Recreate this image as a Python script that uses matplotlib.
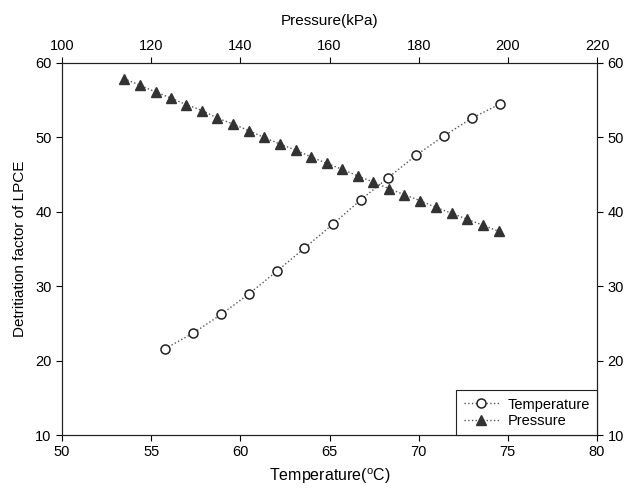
import matplotlib
matplotlib.use("Agg")
import matplotlib.pyplot as plt

plt.rcParams["font.family"] = ["Liberation Sans", "DejaVu Sans"]
plt.rcParams["mathtext.default"] = "regular"

# Temperature series (bottom axis, degC)
temp_x = [55.78, 57.36, 58.92, 60.50, 62.04, 63.59, 65.17,
          66.75, 68.30, 69.85, 71.42, 72.99, 74.57]
temp_y = [21.6, 23.7, 26.2, 29.0, 32.0, 35.1, 38.3,
          41.6, 44.6, 47.6, 50.2, 52.6, 54.5]

# Pressure series (top axis, kPa)
pres_x = [113.9, 117.5, 121.0, 124.4, 127.9, 131.5, 134.8, 138.4, 141.9,
          145.3, 148.9, 152.4, 155.8, 159.4, 162.9, 166.4, 169.8, 173.4,
          176.8, 180.3, 183.8, 187.4, 190.9, 194.4, 197.9]
pres_y = [57.9, 57.0, 56.1, 55.3, 54.4, 53.6, 52.6, 51.8, 50.9,
          50.0, 49.1, 48.3, 47.4, 46.5, 45.7, 44.8, 44.0, 43.1,
          42.3, 41.5, 40.6, 39.8, 39.0, 38.2, 37.4]

temp_ticks = [50, 55, 60, 65, 70, 75, 80]
pres_ticks = [100, 120, 140, 160, 180, 200, 220]
y_ticks = [10, 20, 30, 40, 50, 60]

fig = plt.figure(figsize=(6.28, 4.94), dpi=100)
ax = fig.add_axes([0.0987, 0.1194, 0.852, 0.7531])

line_t, = ax.plot(temp_x, temp_y, linestyle=":", color="#555555", lw=1,
                  marker="o", markersize=6.5, markerfacecolor="white",
                  markeredgecolor="#222222", markeredgewidth=1.1,
                  label="Temperature")
ax.set_xlim(50, 80)
ax.set_ylim(10, 60)
ax.set_xticks(temp_ticks)
ax.set_yticks(y_ticks)
ax.set_xlabel("Temperature($^{o}$C)", fontsize=11.5, labelpad=5)
ax.set_ylabel("Detritiation factor of LPCE", fontsize=11, labelpad=6)
ax.tick_params(axis="both", direction="out", length=4, labelsize=10.5,
               right=True, labelright=True)

ax2 = ax.twiny()
line_p, = ax2.plot(pres_x, pres_y, linestyle=":", color="#555555", lw=1,
                   marker="^", markersize=6.5, markerfacecolor="#333333",
                   markeredgecolor="#333333", label="Pressure")
ax2.set_xlim(100, 220)
ax2.set_xticks(pres_ticks)
ax2.set_xlabel("Pressure(kPa)", fontsize=11, labelpad=10)
ax2.tick_params(axis="x", direction="out", length=4, labelsize=10.5)

for a in (ax, ax2):
    for s in a.spines.values():
        s.set_linewidth(0.8)
        s.set_color("#222222")

leg = ax.legend([line_t, line_p], ["Temperature", "Pressure"],
                loc="lower right", bbox_to_anchor=(1.0, 0.0),
                borderaxespad=0, fontsize=10.5, fancybox=False,
                framealpha=1, edgecolor="#222222", handlelength=2.4,
                borderpad=0.5, labelspacing=0.15, handletextpad=0.6)
leg.get_frame().set_linewidth(0.8)

fig.savefig("out.png", dpi=100)
